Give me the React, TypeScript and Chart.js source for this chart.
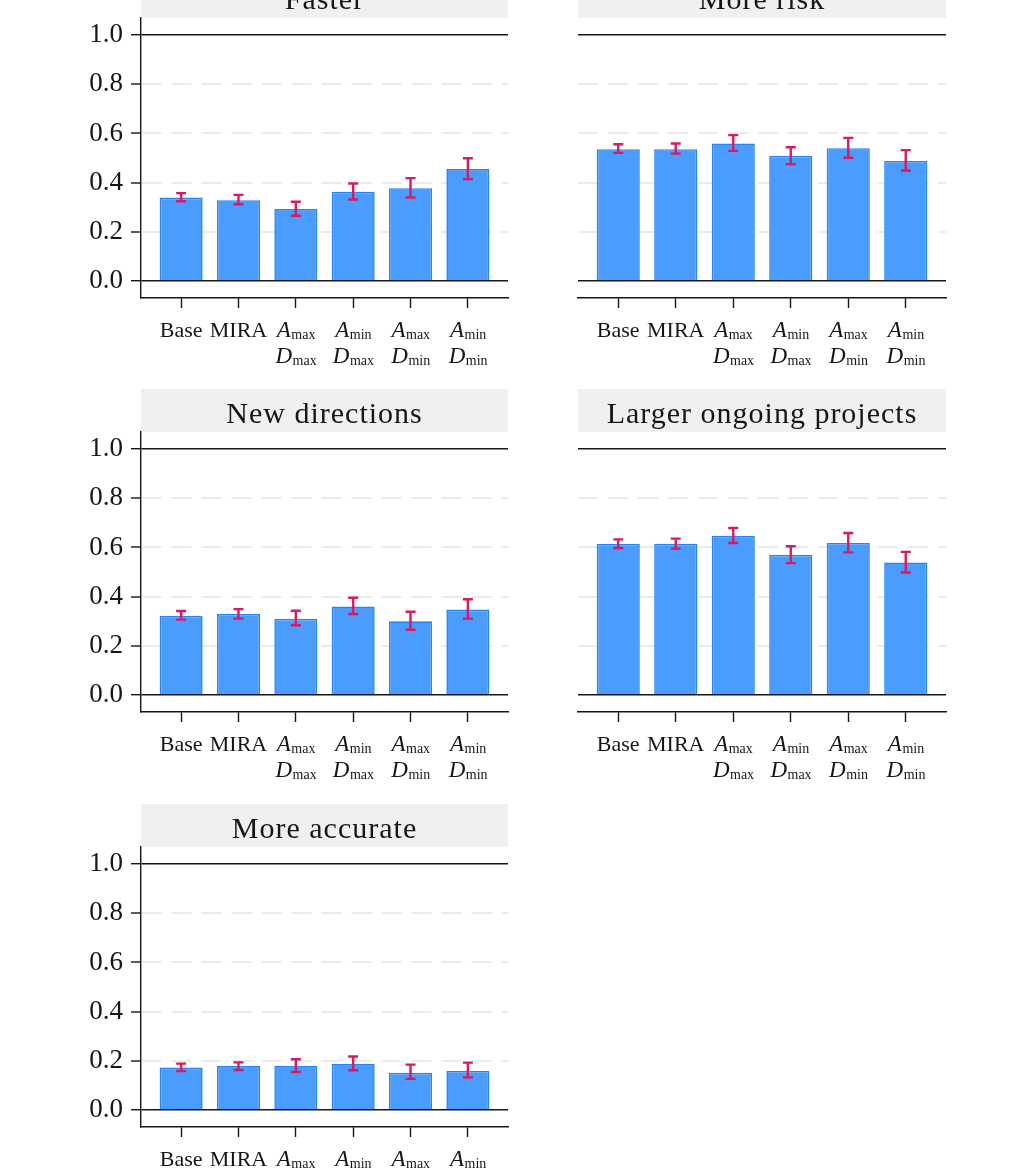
import { useEffect, useRef } from 'react';
import { Chart, registerables } from 'chart.js';
import type { Plugin } from 'chart.js';

Chart.register(...registerables);

// Categorías del eje x: [texto principal, subíndice] por línea
const categoryLines: [string, string][][] = [
	[['Base', '']],
	[['MIRA', '']],
	[['A', 'max'], ['D', 'max']],
	[['A', 'min'], ['D', 'max']],
	[['A', 'max'], ['D', 'min']],
	[['A', 'min'], ['D', 'min']],
];
const yTicks = [0, 0.2, 0.4, 0.6, 0.8, 1.0];

const fasterMean = [0.339, 0.328, 0.292, 0.363, 0.377, 0.455];
const fasterLow = [0.324, 0.312, 0.265, 0.331, 0.339, 0.414];
const fasterHigh = [0.357, 0.35, 0.322, 0.396, 0.418, 0.499];

const riskMean = [0.536, 0.536, 0.559, 0.509, 0.54, 0.488];
const riskLow = [0.521, 0.518, 0.529, 0.475, 0.501, 0.449];
const riskHigh = [0.556, 0.559, 0.593, 0.544, 0.582, 0.532];

const directionsMean = [0.322, 0.329, 0.31, 0.36, 0.299, 0.347];
const directionsLow = [0.306, 0.31, 0.283, 0.329, 0.265, 0.31];
const directionsHigh = [0.341, 0.349, 0.342, 0.395, 0.338, 0.389];

const largerMean = [0.614, 0.615, 0.648, 0.57, 0.618, 0.539];
const largerLow = [0.598, 0.595, 0.618, 0.536, 0.58, 0.498];
const largerHigh = [0.633, 0.636, 0.679, 0.605, 0.659, 0.582];

const accurateMean = [0.172, 0.178, 0.178, 0.186, 0.151, 0.158];
const accurateLow = [0.158, 0.162, 0.154, 0.161, 0.126, 0.132];
const accurateHigh = [0.188, 0.193, 0.206, 0.217, 0.184, 0.192];

interface PanelData {
	title: string;
	mean: number[];
	low: number[];
	high: number[];
	col: number;
	row: number;
}

const panels: PanelData[] = [
	{ title: 'Faster', mean: fasterMean, low: fasterLow, high: fasterHigh, col: 0, row: 0 },
	{ title: 'More risk', mean: riskMean, low: riskLow, high: riskHigh, col: 1, row: 0 },
	{ title: 'New directions', mean: directionsMean, low: directionsLow, high: directionsHigh, col: 0, row: 1 },
	{ title: 'Larger ongoing projects', mean: largerMean, low: largerLow, high: largerHigh, col: 1, row: 1 },
	{ title: 'More accurate', mean: accurateMean, low: accurateLow, high: accurateHigh, col: 0, row: 2 },
];

const SERIF = '"Liberation Serif", "Times New Roman", serif';
const TITLE_H = 43;
const AXIS_H = 75;
const PLOT_H = 280;
const ROW_TOPS = [-25, 389, 804];
const INK = '#161616';

function panelPlugin(panel: PanelData): Plugin<'bar'> {
	return {
		id: 'panelDecor',
		beforeDraw(chart) {
			const { ctx, chartArea } = chart;
			ctx.save();
			ctx.fillStyle = '#f0f0f0';
			ctx.fillRect(chartArea.left, 0, chartArea.right - chartArea.left, chartArea.top);
			ctx.fillStyle = INK;
			ctx.font = `30px ${SERIF}`;
			(ctx as any).letterSpacing = '1px';
			ctx.textAlign = 'center';
			ctx.textBaseline = 'alphabetic';
			ctx.fillText(panel.title, (chartArea.left + chartArea.right) / 2, 34);
			(ctx as any).letterSpacing = '0px';
			ctx.restore();
		},
		afterDatasetsDraw(chart) {
			const { ctx } = chart;
			const x = chart.scales.x;
			const y = chart.scales.y;
			ctx.save();
			ctx.strokeStyle = '#d81b60';
			ctx.lineWidth = 2.4;
			panel.mean.forEach((_, i) => {
				const px = x.getPixelForValue(i);
				const top = y.getPixelForValue(panel.high[i]);
				const bot = y.getPixelForValue(panel.low[i]);
				ctx.beginPath();
				ctx.moveTo(px, top);
				ctx.lineTo(px, bot);
				ctx.moveTo(px - 5, top);
				ctx.lineTo(px + 5, top);
				ctx.moveTo(px - 5, bot);
				ctx.lineTo(px + 5, bot);
				ctx.stroke();
			});
			ctx.restore();
		},
		afterDraw(chart) {
			const { ctx, chartArea } = chart;
			const x = chart.scales.x;
			ctx.save();
			ctx.fillStyle = INK;
			ctx.textAlign = 'left';
			ctx.textBaseline = 'alphabetic';
			categoryLines.forEach((lines, i) => {
				const cx = x.getPixelForValue(i);
				lines.forEach(([main, sub], li) => {
					const baseY = chartArea.bottom + 39 + li * 26;
					const mainFont = sub ? `italic 23px ${SERIF}` : `22px ${SERIF}`;
					const subFont = `14px ${SERIF}`;
					ctx.font = mainFont;
					const wMain = ctx.measureText(main).width;
					ctx.font = subFont;
					const wSub = sub ? ctx.measureText(sub).width : 0;
					const start = cx - (wMain + wSub) / 2;
					ctx.font = mainFont;
					ctx.fillText(main, start, baseY);
					if (sub) {
						ctx.font = subFont;
						ctx.fillText(sub, start + wMain + 0.5, baseY + 1.5);
					}
				});
			});
			ctx.restore();
		},
	};
}

function Panel({ panel }: { panel: PanelData }) {
	const chartRef = useRef<HTMLCanvasElement | null>(null);
	const isLeft = panel.col === 0;
	const left = isLeft ? 60 : 560;
	const width = isLeft ? 460 : 400;
	const yAxisWidth = isLeft ? 81 : 18;
	const padRight = isLeft ? 12 : 14;

	useEffect(() => {
		if (!chartRef.current) return;
		const existing = Chart.getChart(chartRef.current);
		if (existing) existing.destroy();

		const isSolid = (v: number | undefined) => v === 0 || v === 1;

		const chart = new Chart(chartRef.current, {
			type: 'bar',
			data: {
				datasets: [
					{
						data: panel.mean.map((v, i) => ({ x: i, y: v })),
						backgroundColor: '#4a9cfe',
						borderColor: '#2486f2',
						borderWidth: 1.6,
						barPercentage: 0.75,
						categoryPercentage: 1,
					},
				],
			},
			options: {
				animation: false,
				responsive: true,
				maintainAspectRatio: false,
				layout: { padding: { top: TITLE_H, right: padRight, left: 0, bottom: 0 } },
				plugins: {
					legend: { display: false },
					tooltip: { enabled: false },
				},
				scales: {
					x: {
						type: 'linear',
						min: -0.7,
						max: 5.7,
						offset: false,
						afterBuildTicks: (scale) => {
							scale.ticks = categoryLines.map((_, i) => ({ value: i }));
						},
						ticks: { display: false },
						grid: {
							offset: false,
							drawOnChartArea: false,
							drawTicks: true,
							tickLength: 10,
							tickColor: INK,
							tickWidth: 1.4,
						},
						border: { display: true, color: INK, width: 1.4 },
						afterFit: (scale) => {
							scale.height = AXIS_H;
						},
					},
					y: {
						type: 'linear',
						min: -0.07,
						max: 1.07,
						afterBuildTicks: (scale) => {
							scale.ticks = yTicks.map((v) => ({ value: v }));
						},
						ticks: {
							display: isLeft,
							padding: 8,
							color: INK,
							font: { family: SERIF, size: 27 },
							callback: (v) => Number(v).toFixed(1),
						},
						grid: {
							color: (ctx) => (isSolid(ctx.tick?.value) ? INK : '#ebebeb'),
							lineWidth: (ctx) => (isSolid(ctx.tick?.value) ? 1.4 : 2),
							drawTicks: isLeft,
							tickLength: 10,
							tickColor: INK,
							tickWidth: 1.4,
						},
						border: {
							display: isLeft,
							color: INK,
							width: 1.4,
							dash: (ctx) => (ctx.tick && !isSolid(ctx.tick.value) ? [20, 10] : []),
						},
						afterFit: (scale) => {
							scale.width = yAxisWidth;
						},
					},
				},
			},
			plugins: [panelPlugin(panel)],
		});

		return () => {
			chart.destroy();
		};
	}, [panel, isLeft, yAxisWidth, padRight]);

	return (
		<div
			style={{
				position: 'absolute',
				left,
				top: ROW_TOPS[panel.row],
				width,
				height: TITLE_H + PLOT_H + AXIS_H,
			}}
		>
			<canvas ref={chartRef}></canvas>
		</div>
	);
}

export default function App() {
	return (
		<div
			style={{
				position: 'absolute',
				left: 0,
				top: 0,
				width: 1017,
				height: 1175,
				overflow: 'hidden',
				background: '#fff',
			}}
		>
			{panels.map((p) => (
				<Panel key={p.title} panel={p} />
			))}
		</div>
	);
}
